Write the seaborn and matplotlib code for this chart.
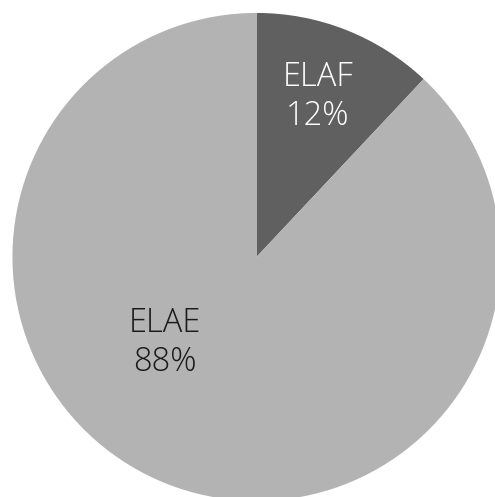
import matplotlib
matplotlib.use("Agg")
import matplotlib.pyplot as plt
import seaborn as sns

labels = ["ELAF", "ELAE"]
values = [12, 88]
colors = ["#606060", "#b3b3b3"]
text_colors = ["#ffffff", "#1a1a1a"]
label_pos = [(0.252, 0.656), (-0.375, -0.352)]

sns.set_theme(style="white")
plt.rcParams['font.family'] = ['Open Sans', 'DejaVu Sans']

fig = plt.figure(figsize=(4.95, 4.97), dpi=100)
ax = fig.add_axes([0, 0, 1, 1])
ax.pie(values, colors=colors, startangle=90, counterclock=False,
       radius=1, center=(0, 0), wedgeprops=dict(linewidth=0))
for lab, v, tc, (x, y) in zip(labels, values, text_colors, label_pos):
    ax.text(x, y, f"{lab}\n{v}%", ha="center", va="center", color=tc,
            fontsize=23.5, fontweight="light", linespacing=1.2)
ax.set_aspect("auto")
ax.set_xlim(-1.051, 0.977)
ax.set_ylim(-0.984, 1.053)
ax.axis("off")
fig.savefig("out.png", dpi=100, facecolor="white")
